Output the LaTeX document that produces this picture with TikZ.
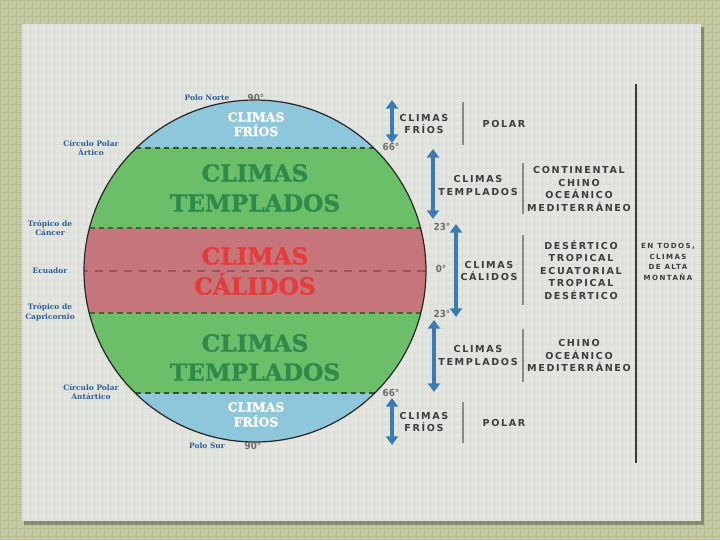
\documentclass[tikz,border=0pt]{standalone}
\usepackage{fontspec}
\setmainfont{DejaVu Serif}
\newfontfamily\slabf{DejaVu Serif}
\newfontfamily\slabh[FakeBold=1.3]{DejaVu Serif}
\newfontfamily\lblf[LetterSpace=17]{DejaVu Sans}
\newfontfamily\smlf[LetterSpace=20]{DejaVu Sans}
\newfontfamily\degf{DejaVu Sans Condensed}
\usetikzlibrary{arrows.meta}
\definecolor{bgout}{HTML}{C5C9A3}
\definecolor{gridout}{HTML}{B8BD94}
\definecolor{paper}{HTML}{E3E4E0}
\definecolor{gridpaper}{HTML}{DCDED8}
\definecolor{coldc}{HTML}{8EC7DC}
\definecolor{tempc}{HTML}{6BBF69}
\definecolor{hotc}{HTML}{C6767A}
\definecolor{tempt}{HTML}{2F8A4C}
\definecolor{hott}{HTML}{E63B3A}
\definecolor{geoblue}{HTML}{2B5E9B}
\definecolor{arrblue}{HTML}{3B7BB4}
\definecolor{txtgray}{HTML}{3D3D3D}
\definecolor{deggray}{HTML}{6B6B6B}
\definecolor{sepgray}{HTML}{8A8A8A}
\begin{document}
\begin{tikzpicture}[x=0.75pt,y=-0.75pt,
  big/.style={font=\slabh\bfseries\fontsize{17.5}{20}\selectfont, inner sep=0, anchor=base},
  cold/.style={font=\slabh\bfseries\fontsize{9.3}{11}\selectfont, inner sep=0, anchor=base, text=white},
  geo/.style={font=\slabf\bfseries\fontsize{5.6}{7.3}\selectfont, text=geoblue, inner sep=0, align=center},
  deg/.style={font=\degf\bfseries\fontsize{7.3}{8}\selectfont, text=deggray, inner sep=0},
  rlab/.style={font=\lblf\bfseries\fontsize{7.2}{9.4}\selectfont, text=txtgray, inner sep=0, align=center},
  slab/.style={font=\smlf\bfseries\fontsize{5.3}{7.9}\selectfont, text=txtgray, inner sep=0, align=center},
  sepline/.style={draw=sepgray, line width=0.8pt},
  span/.style={draw=arrblue, line width=2.3pt, {Triangle[length=6.5pt,width=9pt]}-{Triangle[length=6.5pt,width=9pt]}},
  band/.style={dashed, dash pattern=on 4pt off 3pt, line width=0.8pt},
]
\useasboundingbox (0,0) rectangle (720,540);
% background
\fill[bgout] (0,0) rectangle (720,540);
\foreach \i in {0,8,...,720} \draw[gridout, line width=0.3pt] (\i,0) -- (\i,540);
\foreach \i in {0,8,...,540} \draw[gridout, line width=0.3pt] (0,\i) -- (720,\i);
% paper
\fill[black, opacity=0.3] (24,27) rectangle (704,525);
\fill[paper] (22,24) rectangle (701,521);
\begin{scope}
\clip (22,24) rectangle (701,521);
\foreach \i in {22,30,...,701} \draw[gridpaper, line width=0.2pt] (\i,24) -- (\i,521);
\foreach \i in {24,32,...,521} \draw[gridpaper, line width=0.2pt] (22,\i) -- (701,\i);
\end{scope}
% globe
\coordinate (C) at (255,271);
\begin{scope}
\clip (C) circle[radius=128.25pt];
\fill[coldc] (80,95) rectangle (430,148);
\fill[tempc] (80,148) rectangle (430,228);
\fill[hotc] (80,228) rectangle (430,313);
\fill[tempc] (80,313) rectangle (430,393);
\fill[coldc] (80,393) rectangle (430,450);
\draw[band, draw=black!55!tempc] (80,148) -- (430,148);
\draw[band, draw=black!45!tempc] (80,228) -- (430,228);
\draw[band, draw=black!45!tempc] (80,313) -- (430,313);
\draw[band, draw=black!55!tempc] (80,393) -- (430,393);
\draw[dashed, dash pattern=on 6pt off 5pt, line width=1pt, draw=black!25!hotc] (80,271) -- (430,271);
\end{scope}
\draw[black!85, line width=0.9pt] (C) circle[radius=128.25pt];
% globe texts
\node[cold] (f1a) at (256,121.5) {CLIMAS};
\node[cold] (f1b) at (256,136) {FRÍOS};
\node[big, text=tempt] (t1a) at (255,181.5) {CLIMAS};
\node[big, text=tempt] (t1b) at (255,211.5) {TEMPLADOS};
\node[big, text=hott] (ca) at (255,264.5) {CLIMAS};
\node[big, text=hott] (cb) at (255,294.5) {CÁLIDOS};
\node[big, text=tempt] (t2a) at (255,351.5) {CLIMAS};
\node[big, text=tempt] (t2b) at (255,380.5) {TEMPLADOS};
\node[cold] (f2a) at (256,411.5) {CLIMAS};
\node[cold] (f2b) at (256,426.5) {FRÍOS};
% left labels
\node[geo] (pn) at (207,98) {Polo Norte};
\node[geo] (cpa) at (91,148) {Círculo Polar\\Ártico};
\node[geo] (tc) at (50,228) {Trópico de\\Cáncer};
\node[geo] (ec) at (50,271) {Ecuador};
\node[geo] (tcp) at (50,312) {Trópico de\\Capricornio};
\node[geo] (cpan) at (91,392) {Círculo Polar\\Antártico};
\node[geo] (ps) at (207,446) {Polo Sur};
% degrees
\node[deg] (d90n) at (256,98) {90°};
\node[deg] (d66n) at (391,147) {66°};
\node[deg] (d23n) at (442,227) {23°};
\node[deg] (d0) at (441,269) {0°};
\node[deg] (d23s) at (442,314) {23°};
\node[deg] (d66s) at (391,393) {66°};
\node[deg] (d90s) at (253,446) {90°};
% range arrows
\coordinate (a1t) at (392,100); \coordinate (a1b) at (392,143);
\coordinate (a2t) at (433,149); \coordinate (a2b) at (433,219);
\coordinate (a3t) at (456,224); \coordinate (a3b) at (456,317);
\coordinate (a4t) at (434,320); \coordinate (a4b) at (434,392);
\coordinate (a5t) at (392,398); \coordinate (a5b) at (392,445);
\draw[span] (a1t) -- (a1b);
\draw[span] (a2t) -- (a2b);
\draw[span] (a3t) -- (a3b);
\draw[span] (a4t) -- (a4b);
\draw[span] (a5t) -- (a5b);
% separators
\coordinate (s1t) at (463,102); \coordinate (s1b) at (463,145);
\coordinate (s2t) at (523,163); \coordinate (s2b) at (523,214);
\coordinate (s3t) at (523,235); \coordinate (s3b) at (523,305);
\coordinate (s4t) at (523,329); \coordinate (s4b) at (523,382);
\coordinate (s5t) at (463,402); \coordinate (s5b) at (463,443);
\draw[sepline] (s1t) -- (s1b);
\draw[sepline] (s2t) -- (s2b);
\draw[sepline] (s3t) -- (s3b);
\draw[sepline] (s4t) -- (s4b);
\draw[sepline] (s5t) -- (s5b);
\coordinate (rlt) at (636,84); \coordinate (rlb) at (636,463);
\draw[black!78, line width=1.6pt] (rlt) -- (rlb);
% right labels
\node[rlab] (r1) at (424,124) {CLIMAS\\FRÍOS};
\node[rlab] (p1) at (504,124) {POLAR};
\node[rlab] (r2) at (478,185.5) {CLIMAS\\TEMPLADOS};
\node[rlab] (k2) at (579,189) {CONTINENTAL\\CHINO\\OCEÁNICO\\MEDITERRÁNEO};
\node[rlab] (r3) at (489,271) {CLIMAS\\CÁLIDOS};
\node[rlab] (k3) at (581,270) {DESÉRTICO\\TROPICAL\\ECUATORIAL\\TROPICAL\\DESÉRTICO};
\node[rlab] (r4) at (478,355.5) {CLIMAS\\TEMPLADOS};
\node[rlab] (k4) at (579,355.5) {CHINO\\OCEÁNICO\\MEDITERRÁNEO};
\node[rlab] (r5) at (424,422) {CLIMAS\\FRÍOS};
\node[rlab] (p5) at (504,423) {POLAR};
\node[slab] (mt) at (668,262) {EN TODOS,\\CLIMAS\\DE ALTA\\MONTAÑA};
\end{tikzpicture}
\end{document}
